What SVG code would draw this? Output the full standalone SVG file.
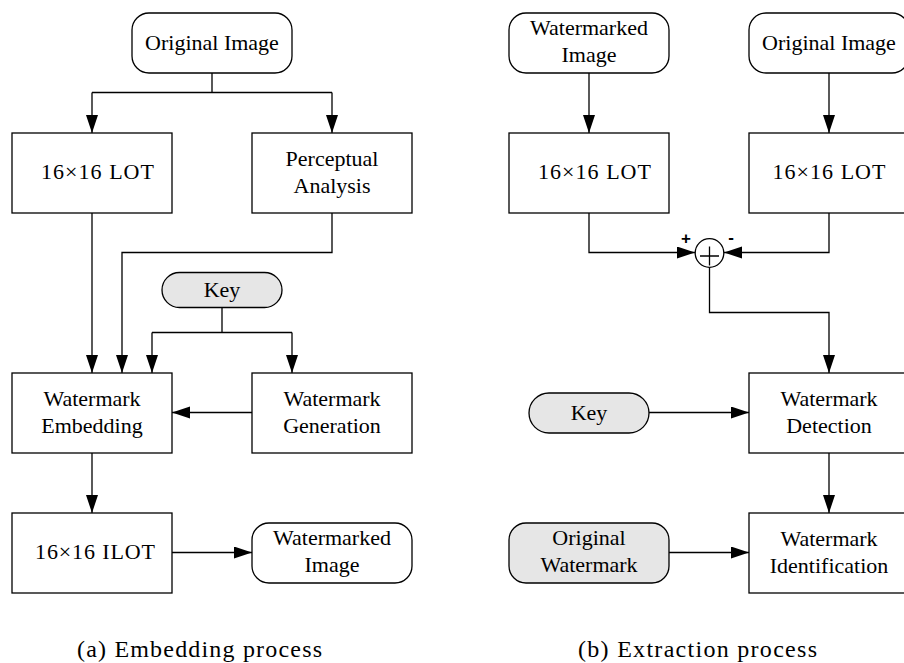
<svg xmlns="http://www.w3.org/2000/svg" width="904" height="663" viewBox="0 0 904 663">
<defs>
<style>
.box{fill:#fff;stroke:#000;stroke-width:1.3}
.gray{fill:#e6e6e6;stroke:#000;stroke-width:1.3}
.t{font-size:22px;fill:#000;text-anchor:middle}
.cap{font-size:24px;fill:#000}
.sign{font-size:17px;font-weight:bold;fill:#000;text-anchor:middle}
.c{fill:none;stroke:#000;stroke-width:1.3}
</style>
<marker id="ah" markerUnits="userSpaceOnUse" markerWidth="20" markerHeight="14" refX="18" refY="6" orient="auto">
<path d="M0,0 L18,6 L0,12 z" fill="#000"/>
</marker>
</defs>
<rect width="904" height="663" fill="#fff"/>

<g id="connectors">
<path class="c" d="M212,73 V92.5 M92,92.5 H332" />
<path class="c" d="M92,92.5 V133" marker-end="url(#ah)"/>
<path class="c" d="M332,92.5 V133" marker-end="url(#ah)"/>
<path class="c" d="M92,213 V373" marker-end="url(#ah)"/>
<path class="c" d="M332,213 V252.5 H122 V373" marker-end="url(#ah)"/>
<path class="c" d="M222,307.5 V332.5 M152,332.5 H292" />
<path class="c" d="M152,332.5 V373" marker-end="url(#ah)"/>
<path class="c" d="M292,332.5 V373" marker-end="url(#ah)"/>
<path class="c" d="M252,412.5 H172" marker-end="url(#ah)"/>
<path class="c" d="M92,453 V513" marker-end="url(#ah)"/>
<path class="c" d="M172,552.5 H252" marker-end="url(#ah)"/>

<path class="c" d="M589,73 V133" marker-end="url(#ah)"/>
<path class="c" d="M829,73 V133" marker-end="url(#ah)"/>
<path class="c" d="M589,213 V252.5 H695" marker-end="url(#ah)"/>
<path class="c" d="M829,213 V252.5 H724" marker-end="url(#ah)"/>
<path class="c" d="M709.5,267 V312.5 H829 V373" marker-end="url(#ah)"/>
<path class="c" d="M649,412.5 H749" marker-end="url(#ah)"/>
<path class="c" d="M829,453 V513" marker-end="url(#ah)"/>
<path class="c" d="M669,552.5 H749" marker-end="url(#ah)"/>
</g>

<g font-family="'Liberation Serif', 'Times New Roman', 'DejaVu Serif', serif">
<g id="a-original-image"><rect class="box" x="132" y="13" width="160" height="60" rx="17"/><text class="t" x="212" y="50">Original Image</text></g>
<g id="a-lot"><rect class="box" x="12" y="133" width="160" height="80"/><text class="t" x="97.5" y="179" textLength="113">16×16 LOT</text></g>
<g id="a-perceptual"><rect class="box" x="252" y="133" width="160" height="80"/><text class="t" x="332" y="165.5">Perceptual</text><text class="t" x="332" y="192.5">Analysis</text></g>
<g id="a-key"><rect class="gray" x="162" y="272.5" width="120" height="35" rx="17.5"/><text class="t" x="222" y="297">Key</text></g>
<g id="a-embedding"><rect class="box" x="12" y="373" width="160" height="80"/><text class="t" x="92" y="405.5">Watermark</text><text class="t" x="92" y="432.5">Embedding</text></g>
<g id="a-generation"><rect class="box" x="252" y="373" width="160" height="80"/><text class="t" x="332" y="405.5">Watermark</text><text class="t" x="332" y="432.5">Generation</text></g>
<g id="a-ilot"><rect class="box" x="12" y="513" width="160" height="80"/><text class="t" x="95" y="559" textLength="120">16×16 ILOT</text></g>
<g id="a-watermarked-image"><rect class="box" x="252" y="523" width="160" height="60" rx="17"/><text class="t" x="332" y="545">Watermarked</text><text class="t" x="332" y="571.5">Image</text></g>

<g id="b-watermarked-image"><rect class="box" x="509" y="13" width="160" height="60" rx="17"/><text class="t" x="589" y="35">Watermarked</text><text class="t" x="589" y="61.5">Image</text></g>
<g id="b-original-image"><rect class="box" x="749" y="13" width="160" height="60" rx="17"/><text class="t" x="829" y="50">Original Image</text></g>
<g id="b-lot1"><rect class="box" x="509" y="133" width="160" height="80"/><text class="t" x="594.5" y="179" textLength="113">16×16 LOT</text></g>
<g id="b-lot2"><rect class="box" x="749" y="133" width="160" height="80"/><text class="t" x="829" y="179" textLength="113">16×16 LOT</text></g>
<g id="b-key"><rect class="gray" x="529" y="393" width="120" height="40" rx="20"/><text class="t" x="589" y="420">Key</text></g>
<g id="b-detection"><rect class="box" x="749" y="373" width="160" height="80"/><text class="t" x="829" y="405.5">Watermark</text><text class="t" x="829" y="432.5">Detection</text></g>
<g id="b-original-watermark"><rect class="gray" x="509" y="523" width="160" height="60" rx="17"/><text class="t" x="589" y="545">Original</text><text class="t" x="589" y="571.5">Watermark</text></g>
<g id="b-identification"><rect class="box" x="749" y="513" width="160" height="80"/><text class="t" x="829" y="545.5">Watermark</text><text class="t" x="829" y="572.5">Identification</text></g>

<text class="cap" x="77" y="657" textLength="245">(a) Embedding process</text>
<text class="cap" x="578" y="657" textLength="239">(b) Extraction process</text>
</g>
<g id="b-sum" font-family="'Liberation Sans', Arial, sans-serif"><circle class="box" cx="709.5" cy="253" r="14.3"/><path class="c" d="M700,256 H719 M709.5,246.5 V265.5"/><text class="sign" x="686" y="244">+</text><text class="sign" x="731" y="243">-</text></g>
</svg>
